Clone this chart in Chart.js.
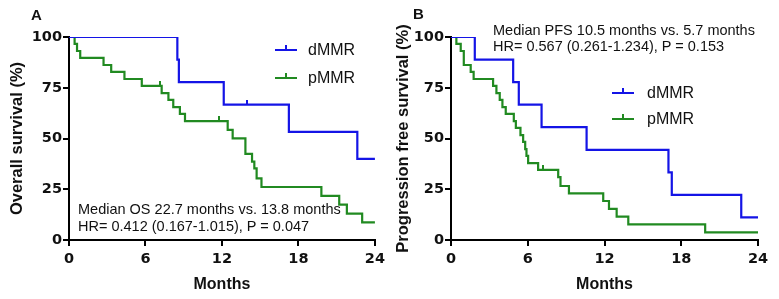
<!DOCTYPE html>
<html>
<head>
<meta charset="utf-8">
<script src="https://cdn.jsdelivr.net/npm/chart.js@4"></script>
<style>
  body { margin: 0; background: #fff; }
  #wrap { position: relative; width: 779px; height: 299px; font-family: 'Liberation Sans', Arial, sans-serif; }
  .panel { position: absolute; top: 0; height: 299px; }
  .txt { position: absolute; font-size: 14.5px; color: #111; white-space: nowrap; }
  .letter { position: absolute; font-weight: bold; font-size: 15px; line-height: 17px; color: #111; }
  .leg { position: absolute; font-size: 16px; color: #111; white-space: nowrap; line-height: 18px; }
  .leg .ln { position: absolute; width: 22px; height: 2px; }
  .leg .tk { position: absolute; left: 10px; top: -4px; width: 2px; height: 4px; }
</style>
</head>
<body>
<div id="wrap">
  <div class="panel" style="left:0;width:390px"><canvas id="osChart"></canvas></div>
  <div class="panel" style="left:390px;width:389px"><canvas id="pfsChart"></canvas></div>

  <div class="letter" style="left:31px;top:6px">A</div>
  <div class="letter" style="left:413px;top:5px">B</div>

  <div class="txt" style="left:78px;top:201px;line-height:17px">Median OS 22.7 months vs. 13.8 months<br>HR= 0.412 (0.167-1.015), P = 0.047</div>
  <div class="txt" style="left:493px;top:23px;line-height:15.5px">Median PFS 10.5 months vs. 5.7 months<br>HR= 0.567 (0.261-1.234), P = 0.153</div>

  <div class="leg" style="left:275px;top:41px"><div class="ln" style="left:0;top:8px;background:#1414e6"><div class="tk" style="background:#1414e6"></div></div><span style="position:absolute;left:33px">dMMR</span></div>
  <div class="leg" style="left:275px;top:69px"><div class="ln" style="left:0;top:8px;background:#218a21"><div class="tk" style="background:#218a21"></div></div><span style="position:absolute;left:33px">pMMR</span></div>

  <div class="leg" style="left:612px;top:84px"><div class="ln" style="left:0;top:8px;background:#1414e6"><div class="tk" style="background:#1414e6"></div></div><span style="position:absolute;left:35px">dMMR</span></div>
  <div class="leg" style="left:612px;top:110px"><div class="ln" style="left:0;top:8px;background:#218a21"><div class="tk" style="background:#218a21"></div></div><span style="position:absolute;left:35px">pMMR</span></div>
</div>

<script>
// Overall survival (A)
const osMonthsD = [0, 8.5, 8.62, 12.14, 17.25, 22.62, 24];
const osSurvD = [100, 88.9, 77.8, 66.7, 53.3, 40, 40];
const osMonthsP = [0, 0.44, 0.63, 0.88, 2.71, 3.31, 4.35, 5.71, 7.27, 7.8, 8.18, 8.7, 9.1, 12.45, 12.84, 13.84, 14.36, 14.54, 14.72, 15.1, 19.8, 21.2, 21.8, 23.0, 24];
const osSurvP = [100, 96.6, 93.1, 89.7, 86.2, 82.8, 79.3, 75.9, 72.4, 69.0, 65.5, 62.1, 58.6, 54.2, 50.1, 42.4, 38.6, 35.3, 30.4, 26.1, 21.7, 17.4, 13.0, 8.7, 8.7];
const osCensorD = [{ x: 13.97, y: 66.7 }];
const osCensorP = [{ x: 7.14, y: 75.9 }, { x: 11.8, y: 58.6 }];

// Progression free survival (B)
const pfsMonthsD = [0, 1.86, 4.86, 5.3, 7.08, 10.6, 17.0, 17.26, 22.69, 24];
const pfsSurvD = [100, 88.9, 77.8, 66.7, 55.6, 44.4, 33.3, 22.2, 11.1, 11.1];
const pfsMonthsP = [0, 0.42, 0.76, 1.0, 1.54, 1.77, 3.29, 3.55, 3.81, 4.02, 4.28, 4.91, 5.07, 5.43, 5.64, 5.8, 5.9, 6.03, 6.81, 8.38, 8.56, 9.22, 11.9, 12.35, 12.95, 13.86, 19.87, 24];
const pfsSurvP = [100, 96.6, 93.1, 86.2, 82.8, 79.3, 75.9, 72.4, 69.0, 65.5, 62.1, 58.6, 55.2, 51.7, 48.3, 44.8, 41.4, 37.9, 34.5, 31.0, 26.6, 23.0, 19.2, 15.3, 11.5, 7.7, 3.8, 3.8];
const pfsCensorP = [{ x: 7.16, y: 34.5 }];

const xTicks = [0, 6, 12, 18, 24];
const yTicks = [0, 25, 50, 75, 100];

const blue = '#1414e6';
const green = '#218a21';

function pts(xs, ys) {
  return xs.map((x, i) => ({ x: x, y: ys[i] }));
}

// small upward tick used for censored marks
function tickMark(color) {
  const c = document.createElement('canvas');
  c.width = 2;
  c.height = 10;
  const g = c.getContext('2d');
  g.fillStyle = color;
  g.fillRect(0, 0, 2, 5);
  return c;
}

function stepSet(data, color) {
  return {
    data: data,
    borderColor: color,
    borderWidth: 2.2,
    stepped: 'before',
    pointRadius: 0,
    fill: false
  };
}

function censorSet(data, color) {
  return {
    type: 'scatter',
    data: data,
    showLine: false,
    pointStyle: tickMark(color),
    pointRadius: 3
  };
}

function makeChart(id, datasets, yTitle, yWidth, rightPad, titlePad) {
  const ctx = document.getElementById(id).getContext('2d');
  return new Chart(ctx, {
    type: 'line',
    data: { datasets: datasets },
    options: {
      responsive: true,
      maintainAspectRatio: false,
      animation: false,
      devicePixelRatio: 1,
      layout: { padding: { left: 0, right: rightPad, top: 37, bottom: 0 } },
      plugins: { legend: { display: false }, tooltip: { enabled: false } },
      scales: {
        x: {
          type: 'linear',
          min: 0,
          max: 24,
          afterBuildTicks: s => { s.ticks = xTicks.map(v => ({ value: v })); },
          afterFit: s => { s.height = 59; },
          border: { display: true, color: '#000', width: 2 },
          grid: { drawOnChartArea: false, drawTicks: true, tickLength: 6, color: '#000', lineWidth: 2 },
          ticks: { color: '#111', padding: 5, font: { family: 'DejaVu Sans', weight: 'bold', size: 14.5 } },
          title: {
            display: true,
            text: 'Months',
            color: '#111',
            padding: { top: 0, bottom: 5 },
            font: { family: 'Liberation Sans', weight: 'bold', size: 16 }
          }
        },
        y: {
          min: 0,
          max: 100,
          afterBuildTicks: s => { s.ticks = yTicks.map(v => ({ value: v })); },
          afterFit: s => { s.width = yWidth; },
          border: { display: true, color: '#000', width: 2 },
          grid: { drawOnChartArea: false, drawTicks: true, tickLength: 6, color: '#000', lineWidth: 2 },
          ticks: { color: '#111', padding: 1, font: { family: 'DejaVu Sans', weight: 'bold', size: 14.5 } },
          title: {
            display: true,
            text: yTitle,
            color: '#111',
            padding: { top: titlePad, bottom: 0 },
            font: { family: 'Liberation Sans', weight: 'bold', size: 16.5 }
          }
        }
      }
    }
  });
}

const osChart = makeChart('osChart', [
  stepSet(pts(osMonthsD, osSurvD), blue),
  stepSet(pts(osMonthsP, osSurvP), green),
  censorSet(osCensorD, blue),
  censorSet(osCensorP, green)
], 'Overall survival (%)', 69, 14, 7.5);

const pfsChart = makeChart('pfsChart', [
  stepSet(pts(pfsMonthsD, pfsSurvD), blue),
  stepSet(pts(pfsMonthsP, pfsSurvP), green),
  censorSet(pfsCensorP, green)
], 'Progression free survival (%)', 61, 21, 4);
</script>
</body>
</html>
